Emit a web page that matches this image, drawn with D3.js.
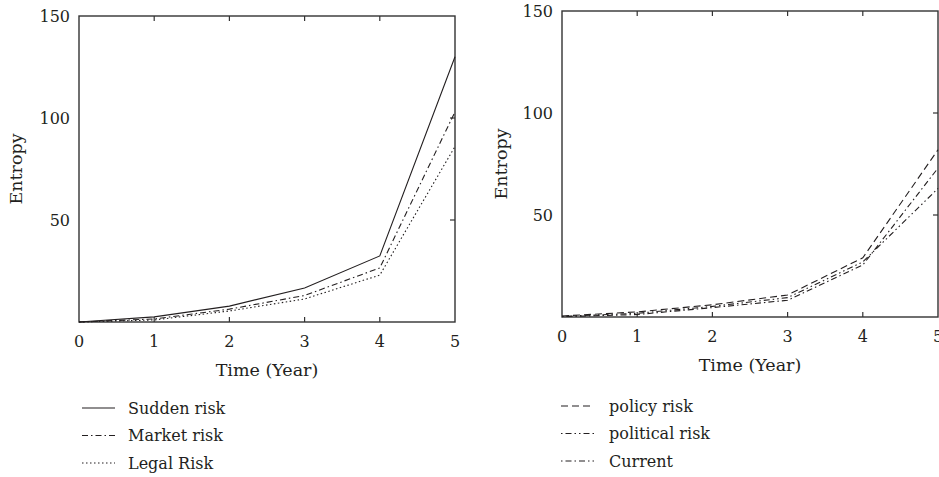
<!DOCTYPE html>
<html><head><meta charset="utf-8">
<script src="https://cdn.jsdelivr.net/npm/d3@7"></script>
<style>
html,body{margin:0;padding:0;background:#fff;overflow:hidden;}
svg{display:block;font-family:"DejaVu Serif","Liberation Serif",serif;}
</style></head><body>
<svg id="c" width="939" height="477"></svg>
<script>
const years = [0, 1, 2, 3, 4, 5];
const yTicks = [50, 100, 150];
const xTicks = [0, 1, 2, 3, 4, 5];

const suddenRisk = [0, 2.5, 7.8, 16.7, 32.4, 130];
const marketRisk = [0, 1.5, 6.3, 13, 26.5, 103];
const legalRisk  = [0, 1, 5.4, 11.3, 23, 86];

const policyRisk    = [0.5, 2.5, 6, 10.8, 29, 82];
const politicalRisk = [0.3, 1.8, 5.2, 9.5, 27, 63];
const currentRisk   = [0.2, 1.2, 4.6, 8.2, 25.5, 73];

const leftSeries = [
  {name: "Sudden risk", values: suddenRisk, dash: null},
  {name: "Market risk", values: marketRisk, dash: "6,3,1.5,3"},
  {name: "Legal Risk", values: legalRisk, dash: "1.5,2.5"}
];
const rightSeries = [
  {name: "policy risk", values: policyRisk, dash: "7,4"},
  {name: "political risk", values: politicalRisk, dash: "1.5,3,6,3,1.5,3"},
  {name: "Current", values: currentRisk, dash: "1.5,3,6,3"}
];

const svg = d3.select("#c");
const ink = "#231f20";
const fs = 16;
const fsTitle = 17.5;

function panel(o) {
  const g = svg.append("g");
  const x = d3.scaleLinear().domain([0, 5]).range([o.x0, o.x1]);
  const y = d3.scaleLinear().domain([0, 150]).range([o.y0, o.y1]);

  g.append("rect").attr("x", o.x0).attr("y", o.y1)
    .attr("width", o.x1 - o.x0).attr("height", o.y0 - o.y1)
    .attr("fill", "none").attr("stroke", "#333").attr("stroke-width", 1.4);

  xTicks.filter(t => t > 0 && t < 5).forEach(t => {
    g.append("line").attr("x1", x(t)).attr("x2", x(t)).attr("y1", o.y0).attr("y2", o.y0 - 5)
      .attr("stroke", "#333").attr("stroke-width", 1.2);
    g.append("line").attr("x1", x(t)).attr("x2", x(t)).attr("y1", o.y1).attr("y2", o.y1 + 5)
      .attr("stroke", "#333").attr("stroke-width", 1.2);
  });
  yTicks.filter(t => t < 150).forEach(t => {
    g.append("line").attr("x1", o.x1).attr("x2", o.x1 - 5).attr("y1", y(t)).attr("y2", y(t))
      .attr("stroke", "#333").attr("stroke-width", 1.2);
  });

  g.selectAll(".yl").data(yTicks).enter().append("text")
    .attr("x", o.x0 - 9).attr("y", d => y(d)).attr("dy", "0.35em")
    .attr("text-anchor", "end").attr("font-size", fs).attr("fill", ink).text(d => d);
  g.selectAll(".xl").data(xTicks).enter().append("text")
    .attr("x", d => x(d)).attr("y", o.y0 + 25)
    .attr("text-anchor", "middle").attr("font-size", fs).attr("fill", ink).text(d => d);

  g.append("text").attr("x", (o.x0 + o.x1) / 2).attr("y", o.y0 + 54)
    .attr("text-anchor", "middle").attr("font-size", fsTitle).attr("fill", ink).text("Time (Year)");
  g.append("text").attr("transform", `translate(${o.ylabX},${(o.y0 + o.y1) / 2}) rotate(-90)`)
    .attr("text-anchor", "middle").attr("font-size", fsTitle).attr("fill", ink).text("Entropy");

  const line = d3.line().x((d, i) => x(years[i])).y(d => y(d));
  o.series.forEach(s => {
    g.append("path").datum(s.values).attr("d", line)
      .attr("fill", "none").attr("stroke", ink).attr("stroke-width", 1.1)
      .attr("stroke-dasharray", s.dash);
  });

  o.series.forEach((s, i) => {
    const ly = o.legY + i * 27.5;
    g.append("line").attr("x1", o.legX).attr("x2", o.legX + 33).attr("y1", ly).attr("y2", ly)
      .attr("stroke", ink).attr("stroke-width", 1.1).attr("stroke-dasharray", s.dash);
    g.append("text").attr("x", o.legX + o.legGap).attr("y", ly).attr("dy", "0.35em")
      .attr("font-size", fs).attr("fill", ink).text(s.name);
  });
}

panel({x0: 79, x1: 455, y0: 322, y1: 16, ylabX: 22, series: leftSeries, legX: 82, legGap: 46, legY: 408});
panel({x0: 562, x1: 938, y0: 317, y1: 11, ylabX: 507, series: rightSeries, legX: 561, legGap: 48, legY: 406});
</script>
</body></html>
